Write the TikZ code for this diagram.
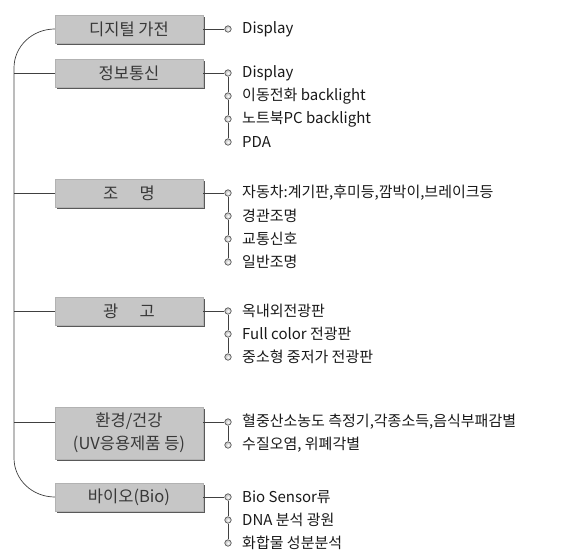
\documentclass[tikz,border=0pt]{standalone}
\usepackage{fontspec}
\setmainfont{Noto Sans CJK KR}
\usetikzlibrary{shadows,patterns}
\begin{document}
\begin{tikzpicture}[x=1pt,y=-1pt,
  cat/.style={draw=gray!60, fill=gray!45, minimum width=148pt, minimum height=28pt, inner sep=0pt,
    font=\fontsize{16.5}{23}\selectfont, text=black!78, align=center,
    drop shadow={shadow xshift=2pt, shadow yshift=-2pt, fill=gray!70!black, opacity=1}},
  item/.style={anchor=west, inner sep=0pt, font=\fontsize{15}{17}\selectfont, text=black!90},
  dot/.style={circle, draw=black!70, inner sep=0pt, minimum size=6.5pt, line width=0.6pt,
    shade, inner color=white, outer color=gray!55},
  conn/.style={draw=black!75, line width=0.7pt}]
\useasboundingbox (0,0) rectangle (563,551);

% category boxes
\node[cat] (c1) at (129,29) {디지털 가전};
\node[cat] (c2) at (129,73) {정보통신};
\node[cat] (c3) at (129,193) {조\hspace{1.3em}명};
\node[cat] (c4) at (129,311) {광\hspace{1.3em}고};
\node[cat, minimum height=52pt] (c5) at (129,433) {환경/건강\\(UV응용제품 등)};
\node[cat] (c6) at (129,497) {바이오(Bio)};

% trunk
\coordinate (j2) at (14,73);
\coordinate (j3) at (14,193);
\coordinate (j4) at (14,311);
\coordinate (j5) at (14,422);
\draw[conn] (c1.west) to[out=180,in=90] (14,68) -- (14,458) to[out=-90,in=180] (c6.west);
\draw[conn] (j2) -- (c2.west);
\draw[conn] (j3) -- (c3.west);
\draw[conn] (j4) -- (c4.west);
\draw[conn] (j5) -- (j5 -| c5.west);

% group 1
\node[dot] (d11) at (228,29) {};
\node[item] (t11) at (242,29) {Display};
\draw[conn] (c1.east) -- (d11);

% group 2
\node[dot] (d21) at (228,73) {};
\node[dot] (d22) at (228,96) {};
\node[dot] (d23) at (228,119) {};
\node[dot] (d24) at (228,142) {};
\node[item] (t21) at (242,73) {Display};
\node[item] (t22) at (242,96) {이동전화 backlight};
\node[item] (t23) at (242,119) {노트북PC backlight};
\node[item] (t24) at (242,142) {PDA};
\draw[conn] (c2.east) -- (d21);
\draw[conn] (d21) -- (d22) -- (d23) -- (d24);

% group 3
\node[dot] (d31) at (228,193) {};
\node[dot] (d32) at (228,216) {};
\node[dot] (d33) at (228,239) {};
\node[dot] (d34) at (228,262) {};
\node[item] (t31) at (242,193) {자동차:계기판,후미등,깜박이,브레이크등};
\node[item] (t32) at (242,216) {경관조명};
\node[item] (t33) at (242,239) {교통신호};
\node[item] (t34) at (242,262) {일반조명};
\draw[conn] (c3.east) -- (d31);
\draw[conn] (d31) -- (d32) -- (d33) -- (d34);

% group 4
\node[dot] (d41) at (228,311) {};
\node[dot] (d42) at (228,334) {};
\node[dot] (d43) at (228,357) {};
\node[item] (t41) at (242,311) {옥내외전광판};
\node[item] (t42) at (242,334) {Full color 전광판};
\node[item] (t43) at (242,357) {중소형 중저가 전광판};
\draw[conn] (c4.east) -- (d41);
\draw[conn] (d41) -- (d42) -- (d43);

% group 5
\node[dot] (d51) at (228,422) {};
\node[dot] (d52) at (228,445) {};
\node[item] (t51) at (242,422) {혈중산소농도 측정기,각종소득,음식부패감별};
\node[item] (t52) at (242,445) {수질오염, 위폐각별};
\draw[conn] (c5.east |- d51) -- (d51);
\draw[conn] (d51) -- (d52);

% group 6
\node[dot] (d61) at (228,497) {};
\node[dot] (d62) at (228,520) {};
\node[dot] (d63) at (228,543) {};
\node[item] (t61) at (242,497) {Bio Sensor류};
\node[item] (t62) at (242,520) {DNA 분석 광원};
\node[item] (t63) at (242,543) {화합물 성분분석};
\draw[conn] (c6.east) -- (d61);
\draw[conn] (d61) -- (d62) -- (d63);
\end{tikzpicture}
\end{document}
